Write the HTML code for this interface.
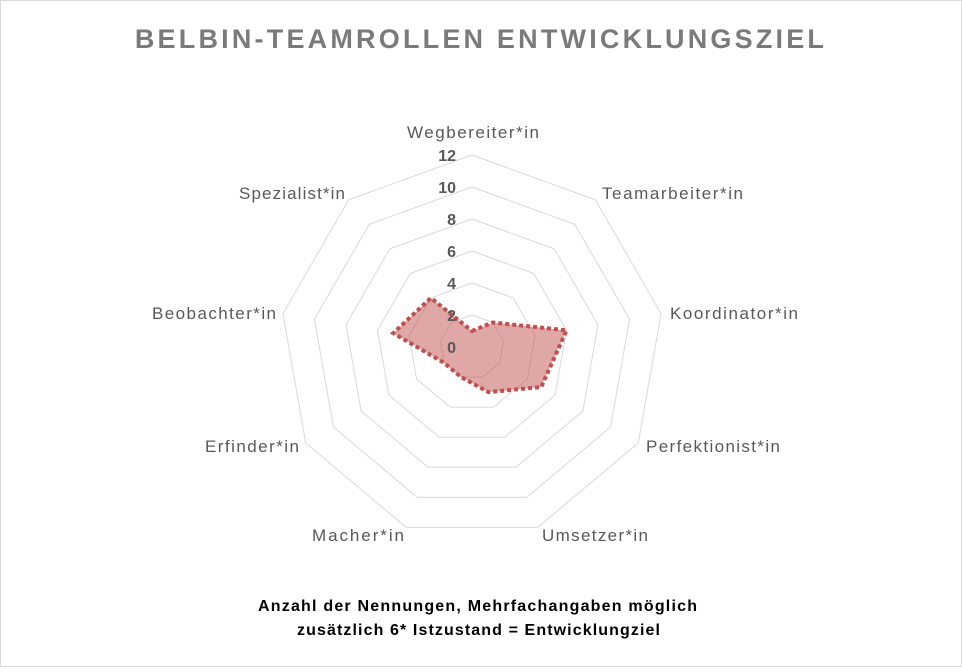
<!DOCTYPE html>
<html><head><meta charset="utf-8"><style>
body{margin:0;background:#fff}
svg text{font-family:"Liberation Sans",sans-serif}
</style></head><body>
<svg width="962" height="667" viewBox="0 0 962 667" xmlns="http://www.w3.org/2000/svg">
<rect x="0.5" y="0.5" width="961" height="666" fill="#fff" stroke="#d9d9d9"/>
<text x="481" y="48" text-anchor="middle" font-size="27" font-weight="bold" fill="#7a7a7a" letter-spacing="3.2">BELBIN-TEAMROLLEN ENTWICKLUNGSZIEL</text>
<g id="rings" fill="none" stroke="#d9d9d9" stroke-width="1"></g>
<polygon id="data" fill="#c0504d" fill-opacity="0.5" stroke="#c0504d" stroke-width="4" stroke-dasharray="4,3"/>
<g font-size="16" font-weight="bold" fill="#595959" text-anchor="end">
<text x="456" y="353">0</text><text x="456" y="321">2</text><text x="456" y="289">4</text>
<text x="456" y="257">6</text><text x="456" y="225">8</text><text x="456" y="193">10</text><text x="456" y="161">12</text>
</g>
<g font-size="17" fill="#595959" lengthAdjust="spacingAndGlyphs">
<text x="407" y="138" textLength="132">Wegbereiter*in</text>
<text x="602" y="199" textLength="141">Teamarbeiter*in</text>
<text x="670" y="319" textLength="128">Koordinator*in</text>
<text x="646" y="452" textLength="134">Perfektionist*in</text>
<text x="542" y="541" textLength="106">Umsetzer*in</text>
<text x="312" y="541" textLength="92">Macher*in</text>
<text x="205" y="452" textLength="94">Erfinder*in</text>
<text x="152" y="319" textLength="124">Beobachter*in</text>
<text x="239" y="199" textLength="106">Spezialist*in</text>
</g>
<g font-size="16" font-weight="bold" fill="#000">
<text x="258" y="611" textLength="439">Anzahl der Nennungen, Mehrfachangaben möglich</text>
<text x="297" y="635" textLength="363">zusätzlich  6* Istzustand  = Entwicklungziel</text>
</g>
<script>
var cx=472,cy=347,s=16,ns="http://www.w3.org/2000/svg";
var g=document.getElementById('rings');
function pt(i,v){var a=i*40*Math.PI/180;return [cx+Math.sin(a)*v*s,cy-Math.cos(a)*v*s];}
for(var r=2;r<=12;r+=2){var p=[];for(var i=0;i<9;i++)p.push(pt(i,r).join(','));var e=document.createElementNS(ns,'polygon');e.setAttribute('points',p.join(' '));g.appendChild(e);}
var d=[1,2,6,5,3,2,2,5,4],p=[];for(var i=0;i<9;i++)p.push(pt(i,d[i]).join(','));
document.getElementById('data').setAttribute('points',p.join(' '));
</script>
</svg>
</body></html>
